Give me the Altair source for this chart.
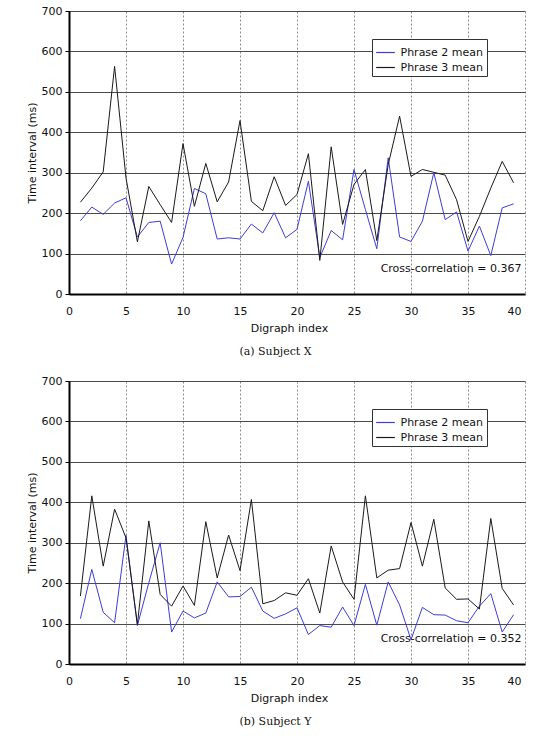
import altair as alt
import pandas as pd

# Digraph positions 1..39 along the x axis
digraph_index = list(range(1, 40))
series_names = ["Phrase 2 mean", "Phrase 3 mean"]
series_colors = ["#3d3dd6", "#1a1a1a"]

# Subject X: mean inter-key time per digraph (ms)
subject_x_phrase2 = [181, 215, 197, 225, 238, 141, 177, 180, 74, 140,
                     261, 248, 136, 139, 136, 173, 151, 201, 139, 160,
                     279, 90, 157, 134, 308, 209, 112, 337, 141, 130,
                     180, 300, 184, 203, 106, 168, 95, 213, 223]
subject_x_phrase3 = [227, 262, 302, 563, 287, 129, 266, 221, 177, 372,
                     217, 323, 228, 277, 429, 229, 206, 290, 219, 246,
                     347, 83, 364, 172, 271, 308, 132, 320, 440, 291,
                     308, 301, 294, 233, 130, 192, 262, 328, 275]

# Subject Y: mean inter-key time per digraph (ms)
subject_y_phrase2 = [112, 234, 128, 102, 318, 95, 201, 300, 79, 131,
                     114, 126, 203, 166, 167, 190, 131, 113, 124, 139,
                     73, 95, 91, 141, 95, 197, 96, 203, 146, 60,
                     140, 122, 121, 107, 102, 143, 174, 79, 122]
subject_y_phrase3 = [168, 416, 242, 383, 312, 98, 354, 172, 143, 193,
                     145, 352, 213, 319, 231, 407, 149, 157, 176, 170,
                     211, 126, 292, 203, 160, 416, 213, 232, 236, 350,
                     242, 358, 188, 160, 161, 136, 360, 187, 146]

captions = ["(a) Subject X", "(b) Subject Y"]
cross_correlations = ["0.367", "0.352"]

x_ticks = [0, 5, 10, 15, 20, 25, 30, 35, 40]
y_ticks = [0, 100, 200, 300, 400, 500, 600, 700]

SANS = "DejaVu Sans"
SERIF = "DejaVu Serif"
PLOT_W = 456
PLOT_H = 283


def panel(phrase2, phrase3, caption, corr):
    df = pd.DataFrame({
        "index": digraph_index * 2,
        "time": phrase2 + phrase3,
        "series": [series_names[0]] * len(phrase2) + [series_names[1]] * len(phrase3),
    })

    lines = alt.Chart(df).mark_line(strokeWidth=1).encode(
        x=alt.X(
            "index:Q",
            scale=alt.Scale(domain=[0, 40], nice=False, zero=False),
            axis=alt.Axis(
                title="Digraph index",
                values=x_ticks,
                format="d",
                grid=True,
                gridColor="#8a8a8a",
                gridDash=[2, 2],
                gridWidth=1,
                ticks=False,
                labelFlush=False,
                labelPadding=11,
                labelOffset={"expr": "datum.value == 40 ? -11 : 0"},
                titlePadding=6,
                titleX=220,
            ),
        ),
        y=alt.Y(
            "time:Q",
            scale=alt.Scale(domain=[0, 700], nice=False),
            axis=alt.Axis(
                title="Time interval (ms)",
                values=y_ticks,
                format="d",
                grid=True,
                gridColor="#4a4a4a",
                gridWidth=1,
                ticks=True,
                tickSize=4,
                tickColor="#000000",
                labelPadding=3,
                titlePadding=4,
            ),
        ),
        color=alt.Color(
            "series:N",
            scale=alt.Scale(domain=series_names, range=series_colors),
            legend=alt.Legend(
                title=None,
                orient="none",
                legendX=303,
                legendY=28,
                padding=3.5,
                fillColor="#ffffff",
                strokeColor="#333333",
                symbolType="stroke",
                symbolSize=350,
                symbolStrokeWidth=1.2,
                labelFont=SANS,
                labelFontSize=11,
                labelColor="#111111",
                labelOffset=5,
                rowPadding=-2,
            ),
        ),
        order=alt.Order("index:Q"),
    )

    note = alt.Chart(
        pd.DataFrame({"label": [f"Cross-correlation = {corr}"]})
    ).mark_text(
        align="right", baseline="middle", font=SANS, fontSize=11, color="#111111"
    ).encode(
        x=alt.value(PLOT_W - 3.5),
        y=alt.value(258),
        text="label:N",
    )

    return alt.layer(lines, note).properties(
        width=PLOT_W,
        height=PLOT_H,
        title=alt.TitleParams(
            text=caption,
            orient="bottom",
            anchor="middle",
            frame="bounds",
            font=SERIF,
            fontSize=11,
            fontWeight="normal",
            color="#111111",
            offset=13,
        ),
    )


top = panel(subject_x_phrase2, subject_x_phrase3, captions[0], cross_correlations[0])
bottom = panel(subject_y_phrase2, subject_y_phrase3, captions[1], cross_correlations[1])

chart = alt.vconcat(top, bottom, spacing=18).resolve_scale(
    color="independent"
).resolve_legend(
    color="independent"
).properties(
    padding={"left": 26, "top": 5, "right": 2, "bottom": 5},
    background="#ffffff",
).configure_view(
    stroke=None
).configure_axis(
    labelFont=SANS,
    labelFontSize=11,
    labelColor="#111111",
    titleFont=SANS,
    titleFontSize=11,
    titleFontWeight="normal",
    titleColor="#111111",
    domainColor="#000000",
    domainWidth=2,
)

chart.save("out.html", embed_options={"renderer": "svg", "actions": False})
